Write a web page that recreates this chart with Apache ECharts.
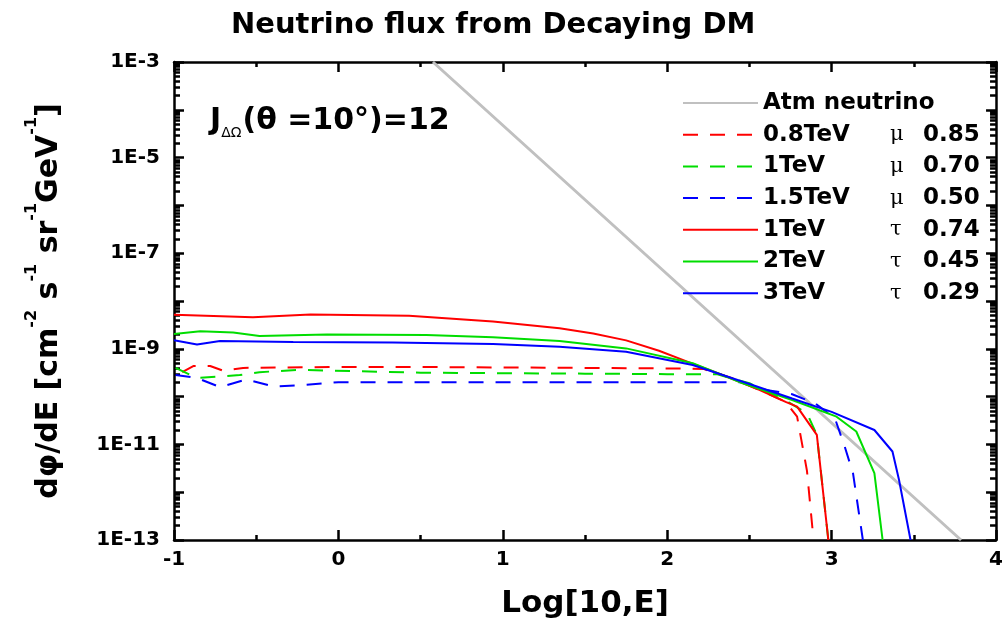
<!DOCTYPE html>
<html><head><meta charset="utf-8">
<script src="https://cdn.jsdelivr.net/npm/echarts@6/dist/echarts.min.js"></script>
<style>html,body{margin:0;padding:0;background:#fff}#c{width:1006px;height:627px}</style>
</head><body><div id="c"></div>
<script>
// ---- data (x = log10 E, y = flux) ----
const atmX = [0.575, 2.18, 3.787];
const atmY = [1e-3, 1e-8, 1e-13];

const red08muX = [-0.95, -0.88, -0.78, -0.70, -0.58, 0, 0.5, 1.0, 1.5, 2.0, 2.22, 2.4, 2.56, 2.72, 2.79, 2.85, 2.89];
const red08muY = [3.24e-10, 4.37e-10, 4.37e-10, 3.47e-10, 3.98e-10, 4.17e-10, 4.17e-10, 4.07e-10, 3.98e-10, 3.89e-10, 3.8e-10, 2.4e-10, 1.38e-10, 7.8e-11, 3.8e-11, 2.8e-12, 1e-13];

const grn1muX = [-0.99, -0.86, -0.6, -0.48, -0.24, 0.5, 1.0, 1.5, 2.0, 2.3, 2.5, 2.72, 2.85, 2.91, 2.98];
const grn1muY = [3.98e-10, 2.45e-10, 2.82e-10, 3.24e-10, 3.63e-10, 3.16e-10, 3.09e-10, 3.02e-10, 2.95e-10, 2.95e-10, 1.9e-10, 8.3e-11, 4.5e-11, 1.58e-11, 1e-13];

const blu15muX = [-0.99, -0.86, -0.72, -0.56, -0.39, -0.22, 0.0, 0.5, 1.0, 1.5, 2.0, 2.45, 2.6, 2.76, 2.9, 3.02, 3.08, 3.13, 3.19];
const blu15muY = [2.82e-10, 2.45e-10, 1.58e-10, 2.29e-10, 1.62e-10, 1.74e-10, 2.0e-10, 2.0e-10, 2.0e-10, 2.0e-10, 2.0e-10, 2.0e-10, 1.38e-10, 1.12e-10, 7.2e-11, 3.5e-11, 8.9e-12, 2.5e-12, 1e-13];

const red1tauX = [-1, -0.52, -0.17, 0.43, 0.94, 1.345, 1.55, 1.75, 1.95, 2.11, 2.36, 2.56, 2.72, 2.79, 2.91, 2.98];
const red1tauY = [5.13e-9, 4.57e-9, 5.25e-9, 4.9e-9, 3.72e-9, 2.69e-9, 2.1e-9, 1.5e-9, 9.1e-10, 5.6e-10, 2.63e-10, 1.38e-10, 7.76e-11, 6.17e-11, 1.58e-11, 1e-13];

const grn2tauX = [-1, -0.84, -0.64, -0.48, -0.07, 0.535, 0.94, 1.345, 1.75, 2.155, 2.46, 2.76, 3.03, 3.15, 3.26, 3.31];
const grn2tauY = [2.04e-9, 2.34e-9, 2.19e-9, 1.86e-9, 2.0e-9, 1.95e-9, 1.74e-9, 1.45e-9, 1.02e-9, 5.0e-10, 1.9e-10, 8.5e-11, 3.8e-11, 1.86e-11, 2.5e-12, 1e-13];

const blu3tauX = [-1, -0.86, -0.72, -0.275, 0.33, 0.94, 1.345, 1.75, 2.155, 2.46, 2.76, 3.0, 3.26, 3.37, 3.41, 3.48];
const blu3tauY = [1.51e-9, 1.23e-9, 1.45e-9, 1.38e-9, 1.35e-9, 1.26e-9, 1.10e-9, 8.7e-10, 4.57e-10, 2.04e-10, 9.1e-11, 4.8e-11, 2.0e-11, 7.1e-12, 1.8e-12, 1e-13];

const seriesNames = ['Atm neutrino', '0.8TeV|μ|0.85', '1TeV|μ|0.70', '1.5TeV|μ|0.50', '1TeV|τ|0.74', '2TeV|τ|0.45', '3TeV|τ|0.29'];
const xTicks = [-1, 0, 1, 2, 3, 4];
const yLabelExps = [-13, -11, -9, -7, -5, -3];

const titleText = 'Neutrino flux from Decaying DM';
const xName = 'Log[10,E]';

// ---- chart ----
const FONT = 'DejaVu Sans';
const zip = (xs, ys) => xs.map((x, i) => [x, ys[i]]);
const dash = [15, 12];

// log-spaced minor tick positions (in decade exponent units) for the overlay axes
const minorTicks = [];
for (let e = -13; e < -3; e++) for (let k = 2; k <= 9; k++) minorTicks.push(e + Math.log10(k));
const majorTicks = [];
for (let e = -13; e <= -3; e++) majorTicks.push(e);

const chart = echarts.init(document.getElementById('c'), null, {renderer: 'canvas'});

function mkLine(name, xs, ys, color, width, type) {
  return {
    name, type: 'line', data: zip(xs, ys), xAxisIndex: 0, yAxisIndex: 0,
    symbol: 'none', showSymbol: false, smooth: false, silent: true,
    lineStyle: {color, width, type}, itemStyle: {color}, clip: true
  };
}

const axisLine = {show: true, onZero: false, lineStyle: {color: '#000', width: 2.5}};
const noLine = {show: false, onZero: false};
const tickStyle = {color: '#000', width: 2.5};
const transparent = 'rgba(0,0,0,0)';

function overlay(position, values, length) {
  return {
    type: 'value', position, min: -13, max: -3,
    axisLine: noLine, splitLine: {show: false}, axisLabel: {show: false},
    axisTick: {show: true, inside: true, length, lineStyle: tickStyle, customValues: values}
  };
}

const option = {
  animation: false,
  backgroundColor: '#fff',
  title: {
    text: titleText, left: 226, top: 6,
    textStyle: {fontFamily: FONT, fontWeight: 'bold', fontSize: 29, color: '#000'}
  },
  grid: {left: 174, right: 9, top: 62, bottom: 87, containLabel: false},
  legend: {
    orient: 'vertical', left: 677, top: 86, itemWidth: 75, itemHeight: 14, itemGap: 7.7,
    data: seriesNames, selectedMode: false,
    itemStyle: {color: transparent, borderColor: transparent, borderWidth: 0},
    formatter: name => {
      const p = name.split('|');
      if (p.length < 3) return '{a|' + name + '}';
      return '{n|' + p[0] + '}{g|' + p[1] + '}{v|' + p[2] + '}';
    },
    textStyle: {
      color: '#000', fontSize: 23, lineHeight: 24,
      rich: {
        a: {fontFamily: FONT, fontWeight: 'bold', fontSize: 23, lineHeight: 24, color: '#000'},
        n: {fontFamily: FONT, fontWeight: 'bold', fontSize: 23, lineHeight: 24, width: 127, color: '#000'},
        g: {fontFamily: 'DejaVu Serif', fontSize: 21, lineHeight: 24, width: 33, color: '#000'},
        v: {fontFamily: FONT, fontWeight: 'bold', fontSize: 23, lineHeight: 24, color: '#000'}
      }
    }
  },
  graphic: [{
    type: 'text', left: 210, top: 106, silent: true,
    style: {
      text: '{j|J}{s|ΔΩ}{m|(θ =10°)=12}',
      rich: {
        j: {fontFamily: FONT, fontWeight: 'bold', fontSize: 30, lineHeight: 38, verticalAlign: 'middle', fill: '#000'},
        s: {fontFamily: FONT, fontSize: 14, lineHeight: 38, verticalAlign: 'bottom', padding: [0, 1, 0, 0], fill: '#000'},
        m: {fontFamily: FONT, fontWeight: 'bold', fontSize: 30, lineHeight: 38, verticalAlign: 'middle', fill: '#000'}
      }
    }
  }],
  xAxis: [{
    type: 'value', position: 'bottom', min: xTicks[0], max: xTicks[xTicks.length - 1], interval: 1,
    name: xName, nameLocation: 'middle', nameGap: 48,
    nameTextStyle: {fontFamily: FONT, fontWeight: 'bold', fontSize: 31, color: '#000'},
    axisLine, axisTick: {show: true, inside: true, length: 10, lineStyle: tickStyle},
    minorTick: {show: true, splitNumber: 2, length: 5, lineStyle: tickStyle},
    splitLine: {show: false}, minorSplitLine: {show: false},
    axisLabel: {margin: 10, fontFamily: FONT, fontWeight: 'bold', fontSize: 20, color: '#000',
      formatter: v => String(v)}
  }, {
    type: 'value', position: 'top', min: xTicks[0], max: xTicks[xTicks.length - 1], interval: 1,
    axisLine, axisTick: {show: true, inside: true, length: 10, lineStyle: tickStyle},
    minorTick: {show: true, splitNumber: 2, length: 5, lineStyle: tickStyle},
    splitLine: {show: false}, axisLabel: {show: false}
  }],
  yAxis: [{
    type: 'log', logBase: 10, position: 'left', min: 1e-13, max: 1e-3, interval: 1,
    name: '{m|dφ/dE [cm}{s|-2}{m| s}{s|-1}{m| sr}{s|-1}{m|GeV}{s|-1}{m|]}',
    nameLocation: 'middle', nameRotate: 90, nameGap: 110,
    nameTextStyle: {
      color: '#000',
      rich: {
        m: {fontFamily: FONT, fontWeight: 'bold', fontSize: 30, lineHeight: 40, verticalAlign: 'bottom', color: '#000'},
        s: {fontFamily: FONT, fontWeight: 'bold', fontSize: 16, lineHeight: 40, verticalAlign: 'top', color: '#000'}
      }
    },
    axisLine, axisTick: {show: false}, splitLine: {show: false},
    axisLabel: {margin: 14, fontFamily: FONT, fontWeight: 'bold', fontSize: 20, color: '#000',
      formatter: v => {
        const e = Math.round(Math.log10(v));
        return yLabelExps.indexOf(e) >= 0 ? '1E' + e : '';
      }}
  }, {
    type: 'log', logBase: 10, position: 'right', min: 1e-13, max: 1e-3,
    axisLine, axisTick: {show: false}, splitLine: {show: false}, axisLabel: {show: false}
  },
    overlay('left', majorTicks, 10),
    overlay('left', minorTicks, 6),
    overlay('right', majorTicks, 10),
    overlay('right', minorTicks, 6)
  ],
  series: [
    mkLine(seriesNames[0], atmX, atmY, '#c0c0c0', 3, 'solid'),
    mkLine(seriesNames[1], red08muX, red08muY, '#ff0000', 2, dash),
    mkLine(seriesNames[2], grn1muX, grn1muY, '#00dd00', 2, dash),
    mkLine(seriesNames[3], blu15muX, blu15muY, '#0000ff', 2, dash),
    mkLine(seriesNames[4], red1tauX, red1tauY, '#ff0000', 2, 'solid'),
    mkLine(seriesNames[5], grn2tauX, grn2tauY, '#00dd00', 2, 'solid'),
    mkLine(seriesNames[6], blu3tauX, blu3tauY, '#0000ff', 2, 'solid')
  ]
};
chart.setOption(option);
</script></body></html>
